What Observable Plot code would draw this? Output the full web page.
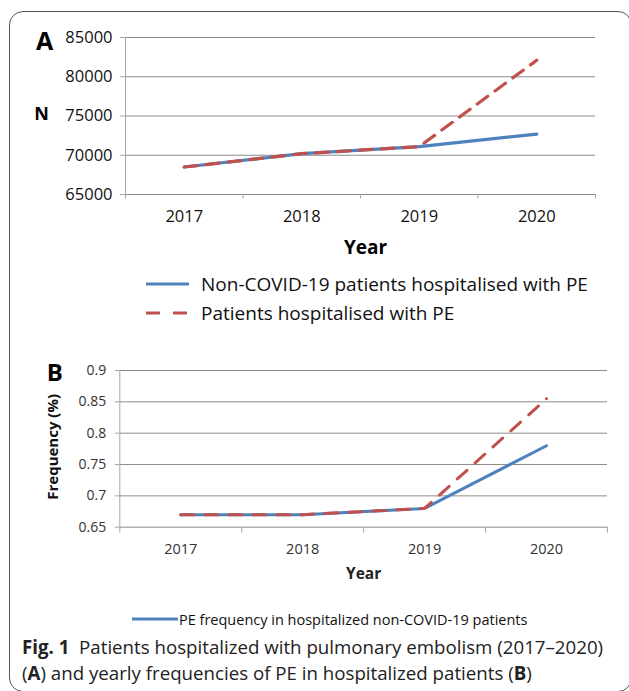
<!DOCTYPE html>
<html>
<head>
<meta charset="utf-8">
<script src="https://cdn.jsdelivr.net/npm/d3@7"></script>
<script src="https://cdn.jsdelivr.net/npm/@observablehq/plot@0.6"></script>
<style>
  html, body { margin: 0; padding: 0; background: #fff; }
  body { width: 629px; height: 691px; overflow: hidden; position: relative; font-family: "Open Sans", sans-serif; color: #111; }
  #frame { position: absolute; left: 9px; top: 11px; width: 621px; height: 679px; border: 1.5px solid #555; border-radius: 14px; }
  .chart { position: absolute; left: 0; }
  .chart svg { display: block; overflow: visible; }
  .leg { position: absolute; display: flex; align-items: center; white-space: nowrap; }
  .leg svg { display: block; }
  #caption { position: absolute; left: 22px; top: 634px; font-size: 18.7px; line-height: 25.5px; color: #222; }
</style>
</head>
<body>
<div id="frame"></div>
<div id="chartA" class="chart" style="top:0px"></div>
<div id="legendA"></div>
<div id="chartB" class="chart" style="top:340px"></div>
<div id="legendB"></div>
<div id="caption"><b>Fig. 1</b>&nbsp; Patients hospitalized with pulmonary embolism (2017–2020)<br>(<b>A</b>) and yearly frequencies of PE in hospitalized patients (<b>B</b>)</div>
<script>
// ---------- data ----------
const years = [2017, 2018, 2019, 2020];
const seriesA = ["Non-COVID-19 patients hospitalised with PE", "Patients hospitalised with PE"];
const nonCovidA = [68500, 70200, 71100, 72700];
const allA = [68500, 70200, 71100, 82100];
const yTicksA = [65000, 70000, 75000, 80000, 85000];

const seriesB = ["PE frequency in hospitalized non-COVID-19 patients", "PE frequency in hospitalized patients"];
const freqNonCovid = [0.67, 0.67, 0.68, 0.78];
const freqAll = [0.67, 0.67, 0.68, 0.855];
const yTicksB = [0.65, 0.7, 0.75, 0.8, 0.85, 0.9];

const BLUE = "#4f81bd", RED = "#c0504d", GRID = "#8c8c8c", AXIS = "#a6a6a6";

const xDomain = [years[0] - 0.5, years[years.length - 1] + 0.5];
const boundaries = d3.range(xDomain[0], xDomain[1] + 0.01, 1);
const rows = (vals) => years.map((y, i) => ({year: y, value: vals[i]}));

// ---------- panel A ----------
const plotA = Plot.plot({
  width: 629, height: 260,
  marginLeft: 125, marginRight: 34, marginTop: 37, marginBottom: 66,
  style: {fontFamily: "Open Sans", fontSize: "16.5px", color: "#111", background: "transparent", overflow: "visible"},
  x: {type: "linear", domain: xDomain},
  y: {domain: [yTicksA[0], yTicksA[yTicksA.length - 1]]},
  marks: [
    Plot.gridY(yTicksA, {stroke: GRID, strokeOpacity: 1}),
    Plot.ruleX([xDomain[0]], {stroke: AXIS}),
    Plot.axisY(yTicksA, {tickSize: 5, tickPadding: 8, tickFormat: d3.format("d"), label: null, stroke: AXIS, fill: "#111", fontSize: 16.5}),
    Plot.axisX(boundaries, {tickSize: 4.5, tickFormat: () => "", label: null, stroke: AXIS}),
    Plot.axisX(years, {tickSize: 0, tickPadding: 16, tickFormat: d3.format("d"), label: null, fill: "#111", fontSize: 16.5}),
    Plot.line(rows(nonCovidA), {x: "year", y: "value", stroke: BLUE, strokeWidth: 3.2}),
    Plot.line(rows(allA), {x: "year", y: "value", stroke: RED, strokeWidth: 3.2, strokeDasharray: "13,9"}),
    Plot.text(["A"], {frameAnchor: "top-left", lineAnchor: "middle", textAnchor: "middle", dx: -81, dy: 4, fontSize: 25, fontWeight: "bold", fill: "#000"}),
    Plot.text(["N"], {frameAnchor: "left", lineAnchor: "middle", textAnchor: "middle", dx: -84, dy: -2, fontSize: 18, fontWeight: "bold", fill: "#000"}),
    Plot.text(["Year"], {frameAnchor: "bottom", lineAnchor: "middle", textAnchor: "middle", dx: 5, dy: 53, fontSize: 19, fontWeight: "bold", fill: "#000"})
  ]
});
document.getElementById("chartA").appendChild(plotA);

// ---------- panel B ----------
const plotB = Plot.plot({
  width: 629, height: 260,
  marginLeft: 119.3, marginRight: 22, marginTop: 30, marginBottom: 73.3,
  style: {fontFamily: "Open Sans", fontSize: "14px", color: "#222", background: "transparent", overflow: "visible"},
  x: {type: "linear", domain: xDomain},
  y: {domain: [yTicksB[0], yTicksB[yTicksB.length - 1]]},
  marks: [
    Plot.gridY(yTicksB, {stroke: GRID, strokeOpacity: 1}),
    Plot.ruleX([xDomain[0]], {stroke: AXIS}),
    Plot.axisY(yTicksB, {tickSize: 4.5, tickPadding: 9, tickFormat: d => String(+d.toFixed(2)), label: null, stroke: AXIS, fill: "#333", fontSize: 14}),
    Plot.axisX(boundaries, {tickSize: 6, tickFormat: () => "", label: null, stroke: AXIS}),
    Plot.axisX(years, {tickSize: 0, tickPadding: 17, tickFormat: d3.format("d"), label: null, fill: "#333", fontSize: 14.5}),
    Plot.line(rows(freqNonCovid), {x: "year", y: "value", stroke: BLUE, strokeWidth: 3}),
    Plot.line(rows(freqAll), {x: "year", y: "value", stroke: RED, strokeWidth: 3, strokeDasharray: "13,11"}),
    Plot.text(["B"], {frameAnchor: "top-left", lineAnchor: "middle", textAnchor: "middle", dx: -65, dy: 3, fontSize: 24, fontWeight: "bold", fill: "#000"}),
    Plot.text(["Frequency (%)"], {frameAnchor: "left", lineAnchor: "middle", textAnchor: "middle", rotate: -90, dx: -67, dy: -2, fontSize: 15, fontWeight: "bold", fill: "#111"}),
    Plot.text(["Year"], {frameAnchor: "bottom", lineAnchor: "middle", textAnchor: "middle", dx: 0, dy: 47, fontSize: 15.5, fontWeight: "bold", fill: "#222"})
  ]
});
document.getElementById("chartB").appendChild(plotB);

// ---------- legends ----------
function legendItem(parent, left, top, label, color, dash, lineW, gap, fontSize, sw) {
  const div = document.createElement("div");
  div.className = "leg";
  div.style.left = left + "px";
  div.style.top = (top - 14) + "px";
  div.style.height = "28px";
  div.style.fontSize = fontSize + "px";
  const svg = d3.create("svg").attr("width", lineW).attr("height", 28);
  svg.append("line").attr("x1", 0).attr("x2", lineW).attr("y1", 14).attr("y2", 14)
    .attr("stroke", color).attr("stroke-width", sw).attr("stroke-dasharray", dash || null);
  div.appendChild(svg.node());
  const span = document.createElement("span");
  span.textContent = label;
  span.style.marginLeft = gap + "px";
  div.appendChild(span);
  document.getElementById(parent).appendChild(div);
}
legendItem("legendA", 146, 284, seriesA[0], BLUE, null, 43, 12, 19, 3.2);
legendItem("legendA", 146, 313, seriesA[1], RED, "14,13", 43, 12, 19, 3.2);
legendItem("legendB", 132, 619, seriesB[0], BLUE, null, 46, 1, 14.5, 3);
</script>
</body>
</html>
